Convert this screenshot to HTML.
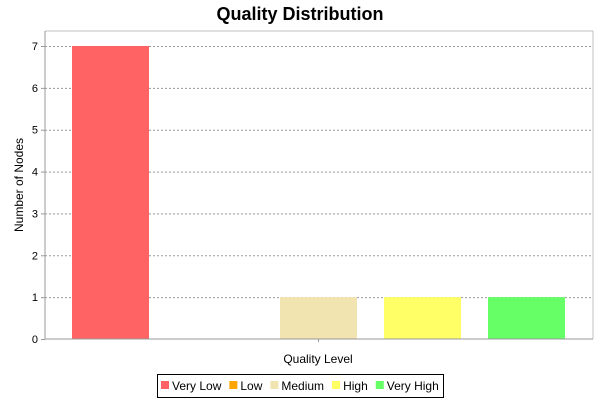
<!DOCTYPE html>
<html><head><meta charset="utf-8"><style>
body{margin:0;background:#fff;}
svg{display:block;font-family:"Liberation Sans",sans-serif;}
</style></head><body>
<svg width="600" height="400">
<text x="300" y="20" text-anchor="middle" font-size="18" font-weight="bold">Quality Distribution</text>
<g id="grid"></g>
<line x1="45" y1="31" x2="593" y2="31" stroke="#c0c0c0"/>
<line x1="593" y1="31" x2="593" y2="339" stroke="#c0c0c0"/>
<g id="bars"></g>
<line x1="45" y1="31" x2="45" y2="339" stroke="#999"/>
<line x1="45" y1="339" x2="593" y2="339" stroke="#999"/>
<line x1="318.5" y1="339" x2="318.5" y2="342" stroke="#999"/>
<g id="yticks"></g>
<text x="318" y="363" text-anchor="middle" font-size="12">Quality Level</text>
<text transform="translate(23,185) rotate(-90)" text-anchor="middle" font-size="12">Number of Nodes</text>
<g>
<rect x="157.5" y="374.5" width="286" height="23" fill="#fff" stroke="#000"/>
<g id="legend"></g>
</g>
</svg>
<script>
const categories=["Very Low","Low","Medium","High","Very High"];
const values=[7,0,1,1,1];
const colors=["#ff6363","#ffa500","#f2e4b0","#ffff66","#66ff66"];
const yTicks=[0,1,2,3,4,5,6,7];
const NS="http://www.w3.org/2000/svg";
function mk(t,a,p){const e=document.createElementNS(NS,t);for(const k in a)e.setAttribute(k,a[k]);p.appendChild(e);return e;}
const y0=339,yPer=(339-46)/7;
function yS(v){return y0-v*yPer;}
function xC(i){return 110.5+i*104;}
const bw=77;
const grid=document.getElementById('grid'),yt=document.getElementById('yticks');
yTicks.forEach(t=>{
 if(t>0){const g=mk('line',{x1:45,x2:593,y1:yS(t)+0.5,y2:yS(t)+0.5,stroke:'#999','stroke-dasharray':'2,2'},grid);
 
 }
 const tk=mk('line',{x1:41,x2:45,y1:yS(t)+0.5,y2:yS(t)+0.5,stroke:'#999'},yt);
 
 
 const tx=mk('text',{x:38,y:yS(t)+4,'text-anchor':'end','font-size':'11'},yt);tx.textContent=t;
 
 
});
const bars=document.getElementById('bars');
values.forEach((v,i)=>{
 if(v<=0)return;
 const r=mk('rect',{x:xC(i)-bw/2,y:yS(v),width:bw,height:y0-yS(v),fill:colors[i]},bars);
 
 
});
const lg=document.getElementById('legend');
let lx=161;
categories.forEach((c,i)=>{
 const s=mk('rect',{x:lx,y:381,width:8,height:8,fill:colors[i]},lg);
 
 
 const t=mk('text',{x:lx+11,y:390,'font-size':'12'},lg);t.textContent=c;
 
 
 lx+=11+t.getComputedTextLength()+8;
});
</script>
</body></html>
